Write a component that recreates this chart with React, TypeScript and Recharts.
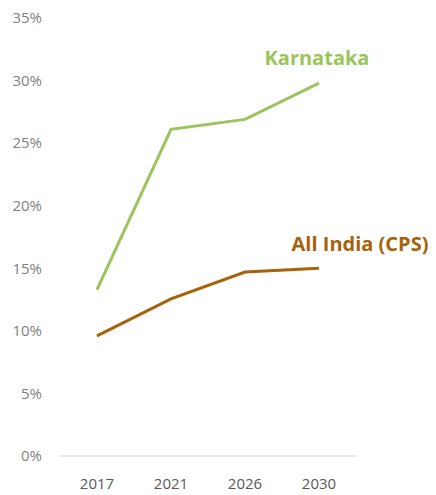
import React from "react";
import { LineChart, Line, XAxis, YAxis, LabelList } from "recharts";

const years = ["2017", "2021", "2026", "2030"];
const karnataka = [13.3, 26.1, 26.9, 29.8];
const allIndia = [9.6, 12.55, 14.7, 15.0];
const yTicks = [0, 5, 10, 15, 20, 25, 30, 35];

const data = years.map((y, i) => ({ year: y, karnataka: karnataka[i], allIndia: allIndia[i] }));

const makeLabel = (text: string, color: string, dx: number, dy: number) => (props: any) => {
  const { x, y, index } = props;
  if (index !== years.length - 1) return null;
  return (
    <text
      x={x + dx}
      y={y + dy}
      textAnchor="middle"
      fill={color}
      fontFamily="'Open Sans', sans-serif"
      fontWeight="bold"
      fontSize={20}
    >
      {text}
    </text>
  );
};

export default function App() {
  return (
    <div style={{ position: "absolute", left: 0, top: 0, background: "#fff" }}>
      <LineChart width={436} height={495} data={data} margin={{ top: 18, right: 80, bottom: 9, left: 0 }}>
        <XAxis
          dataKey="year"
          axisLine={{ stroke: "#d9d9d9" }}
          tickLine={false}
          tickMargin={16}
          height={30}
          padding={{ left: 37, right: 37 }}
          tick={{ fill: "#595959", fontSize: 15, fontFamily: "'Open Sans', sans-serif" }}
        />
        <YAxis
          domain={[0, 35]}
          ticks={yTicks}
          width={60}
          axisLine={false}
          tickLine={false}
          tickMargin={12}
          tickFormatter={(v: number) => `${v}%`}
          tick={{ fill: "#7f7f7f", fontSize: 15, fontFamily: "'Open Sans', sans-serif" }}
        />
        <Line type="linear" dataKey="karnataka" stroke="#9bc55a" strokeWidth={3} dot={false} isAnimationActive={false}>
          <LabelList dataKey="karnataka" content={makeLabel("Karnataka", "#9bc55a", -2, -18)} />
        </Line>
        <Line type="linear" dataKey="allIndia" stroke="#a8620c" strokeWidth={3} dot={false} isAnimationActive={false}>
          <LabelList dataKey="allIndia" content={makeLabel("All India (CPS)", "#a8620c", 41, -17)} />
        </Line>
      </LineChart>
    </div>
  );
}
